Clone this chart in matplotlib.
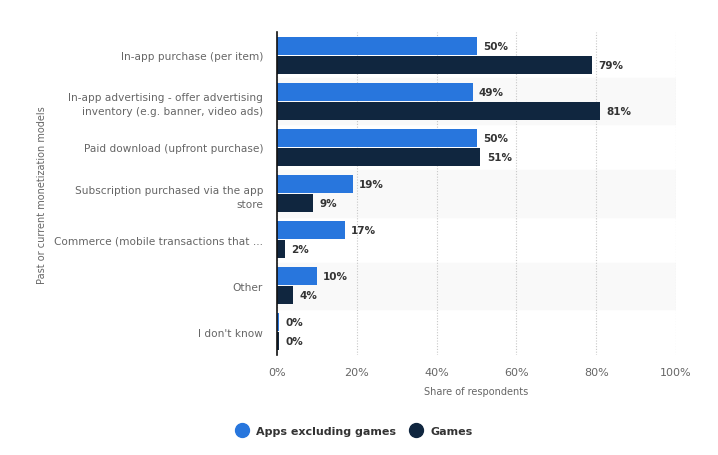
import matplotlib.pyplot as plt
import numpy as np
from matplotlib.lines import Line2D

categories = ["In-app purchase (per item)",
              "In-app advertising - offer advertising\ninventory (e.g. banner, video ads)",
              "Paid download (upfront purchase)",
              "Subscription purchased via the app\nstore",
              "Commerce (mobile transactions that ...",
              "Other",
              "I don't know"]
apps = [50, 49, 50, 19, 17, 10, 0.6]
games = [79, 81, 51, 9, 2, 4, 0.6]
apps_labels = ["50%", "49%", "50%", "19%", "17%", "10%", "0%"]
games_labels = ["79%", "81%", "51%", "9%", "2%", "4%", "0%"]
ticks = [0, 20, 40, 60, 80, 100]

blue = "#2876dd"
navy = "#10263f"

fig = plt.figure(figsize=(7.18, 4.56), dpi=100)
ax = fig.add_axes([0.3858, 0.2193, 0.5557, 0.7083])

y = np.arange(len(categories))
h = 0.39
for i in y:
    if i % 2 == 1:
        ax.axhspan(i - 0.5, i + 0.5, color="#f9f9f9", zorder=0)

ax.barh(y - h / 2 - 0.01, apps, height=h, color=blue, zorder=3)
ax.barh(y + h / 2 + 0.01, games, height=h, color=navy, zorder=3)

for i in y:
    ax.text(apps[i] + 1.6, i - h / 2 - 0.01, apps_labels[i], va="center", ha="left",
            fontsize=7.5, fontweight="bold", color="#333333", zorder=4)
    ax.text(games[i] + 1.6, i + h / 2 + 0.01, games_labels[i], va="center", ha="left",
            fontsize=7.5, fontweight="bold", color="#333333", zorder=4)

ax.set_ylim(len(categories) - 0.5, -0.5)
ax.set_xlim(0, 100)
ax.set_yticks(y)
ax.set_yticklabels(categories, fontsize=7.6, color="#666666", linespacing=1.5)
ax.set_xticks(ticks)
ax.set_xticklabels([f"{t}%" for t in ticks], fontsize=8, color="#666666")
ax.tick_params(axis="both", length=0)
ax.tick_params(axis="y", pad=10)
ax.tick_params(axis="x", pad=9)
ax.xaxis.grid(True, linestyle=(0, (1, 1.5)), color="#c8c8c8", linewidth=0.8)
ax.set_axisbelow(True)
for s in ["top", "right", "bottom"]:
    ax.spines[s].set_visible(False)
ax.spines["left"].set_color("#111111")
ax.spines["left"].set_linewidth(1.2)
ax.spines["left"].set_zorder(5)

ax.set_xlabel("Share of respondents", fontsize=7, color="#666666", labelpad=6)
fig.text(0.058, 0.572, "Past or current monetization models", rotation=90,
         fontsize=7, color="#666666", ha="center", va="center")

handles = [Line2D([], [], marker="o", linestyle="", markersize=10, color=blue),
           Line2D([], [], marker="o", linestyle="", markersize=10, color=navy)]
fig.legend(handles, ["Apps excluding games", "Games"], loc="center",
           bbox_to_anchor=(0.49, 0.052), ncol=2, frameon=False,
           prop={"size": 8, "weight": "bold"}, labelcolor="#333333",
           handletextpad=0.3, columnspacing=0.8)

fig.savefig("out.png", dpi=100)
